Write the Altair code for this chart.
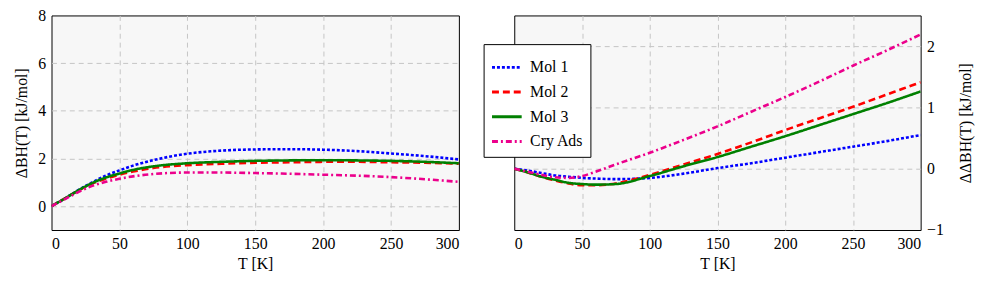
import altair as alt
import pandas as pd

T = [0, 10, 20, 30, 40, 50, 60, 75, 100, 125, 150, 175, 200, 225, 250, 275, 300]
series = ["Mol 1", "Mol 2", "Mol 3", "Cry Ads"]

left_mol1 = [0, 0.33, 0.68, 1.0, 1.28, 1.5, 1.7, 1.93, 2.2, 2.33, 2.38, 2.39, 2.37, 2.31, 2.21, 2.1, 1.96]
left_mol2 = [0, 0.33, 0.66, 0.95, 1.15, 1.32, 1.45, 1.6, 1.72, 1.78, 1.82, 1.84, 1.86, 1.86, 1.84, 1.82, 1.78]
left_mol3 = [0, 0.33, 0.67, 0.97, 1.2, 1.37, 1.52, 1.67, 1.8, 1.86, 1.9, 1.92, 1.93, 1.92, 1.9, 1.86, 1.8]
left_cry = [0, 0.3, 0.6, 0.85, 1.02, 1.15, 1.25, 1.35, 1.41, 1.41, 1.39, 1.36, 1.32, 1.28, 1.22, 1.13, 1.02]

right_mol1 = [0, -0.03, -0.07, -0.11, -0.13, -0.15, -0.16, -0.17, -0.15, -0.08, 0.01, 0.09, 0.18, 0.27, 0.36, 0.45, 0.55]
right_mol2 = [0, -0.06, -0.13, -0.19, -0.24, -0.27, -0.27, -0.24, -0.1, 0.07, 0.24, 0.43, 0.63, 0.82, 1.01, 1.21, 1.41]
right_mol3 = [0, -0.06, -0.13, -0.18, -0.23, -0.25, -0.26, -0.25, -0.12, 0.04, 0.19, 0.36, 0.53, 0.71, 0.89, 1.07, 1.26]
right_cry = [0, -0.05, -0.1, -0.14, -0.15, -0.12, -0.05, 0.07, 0.26, 0.47, 0.69, 0.93, 1.17, 1.42, 1.68, 1.93, 2.19]

x_ticks = [0, 50, 100, 150, 200, 250, 300]
left_ticks = [0, 2, 4, 6, 8]
right_ticks = [-1, 0, 1, 2]

colors = ["#0000ff", "#ff0000", "#008000", "#ec008c"]
dashes = [[3, 2], [7, 4], [1, 0], [6, 3, 2, 3]]


def long(vals):
    rows = []
    for s, v in zip(series, vals):
        for t, y in zip(T, v):
            rows.append({"T": t, "y": y, "series": s})
    return pd.DataFrame(rows)


left_df = long([left_mol1, left_mol2, left_mol3, left_cry])
right_df = long([right_mol1, right_mol2, right_mol3, right_cry])

font = "'Liberation Serif', 'Times New Roman', serif"
color_scale = alt.Scale(domain=series, range=colors)
dash_scale = alt.Scale(domain=series, range=dashes)


def hide_edges(test):
    return {"condition": {"test": test, "value": 0}, "value": 1}


xenc = alt.X("T:Q", title="T [K]",
             scale=alt.Scale(domain=[0, 300], nice=False),
             axis=alt.Axis(values=x_ticks,
                           gridOpacity=hide_edges("datum.value <= 0 || datum.value >= 300")))

legend = alt.Legend(title=None, orient="none", legendX=-31, legendY=29,
                    symbolType="stroke", symbolSize=900, symbolStrokeWidth=3,
                    strokeColor="black", fillColor="white", padding=7,
                    labelFont=font, labelFontSize=16, labelColor="black",
                    rowPadding=0, labelOffset=7)

left = alt.Chart(left_df).mark_line(strokeWidth=2.6, interpolate="monotone", clip=True).encode(
    x=xenc,
    y=alt.Y("y:Q", title="ΔBH(T) [kJ/mol]",
            scale=alt.Scale(domain=[-1, 8], nice=False),
            axis=alt.Axis(values=left_ticks, titlePadding=8,
                          gridOpacity=hide_edges("datum.value >= 8"))),
    color=alt.Color("series:N", scale=color_scale, legend=None),
    strokeDash=alt.StrokeDash("series:N", scale=dash_scale, legend=None),
    order=alt.Order("T:Q"),
).properties(width=412, height=217)

right = alt.Chart(right_df).mark_line(strokeWidth=2.6, interpolate="monotone", clip=True).encode(
    x=xenc,
    y=alt.Y("y:Q", title="ΔΔBH(T) [kJ/mol]",
            scale=alt.Scale(domain=[-1, 2.5], nice=False),
            axis=alt.Axis(values=right_ticks, orient="right", titleAngle=270,
                          titlePadding=30,
                          gridOpacity=hide_edges("datum.value <= -1"))),
    color=alt.Color("series:N", scale=color_scale, legend=legend),
    strokeDash=alt.StrokeDash("series:N", scale=dash_scale, legend=legend),
    order=alt.Order("T:Q"),
).properties(width=411, height=217)

chart = alt.hconcat(left, right, spacing=23).resolve_legend(
    color="independent", strokeDash="independent"
).resolve_scale(y="independent").configure(
    background="white", font=font
).configure_view(
    stroke="black", strokeWidth=1, fill="#f7f7f7"
).configure_axis(
    grid=True, gridColor="#c4c4c4", gridDash=[5, 4], gridWidth=1,
    domain=False, ticks=False,
    labelFont=font, labelFontSize=16, labelColor="black", labelPadding=6,
    titleFont=font, titleFontSize=16, titleFontWeight="normal", titleColor="black",
).properties(padding={"left": 5, "top": -3, "right": 5, "bottom": 5})

chart.save("out.html", embed_options={"renderer": "svg", "actions": False})
